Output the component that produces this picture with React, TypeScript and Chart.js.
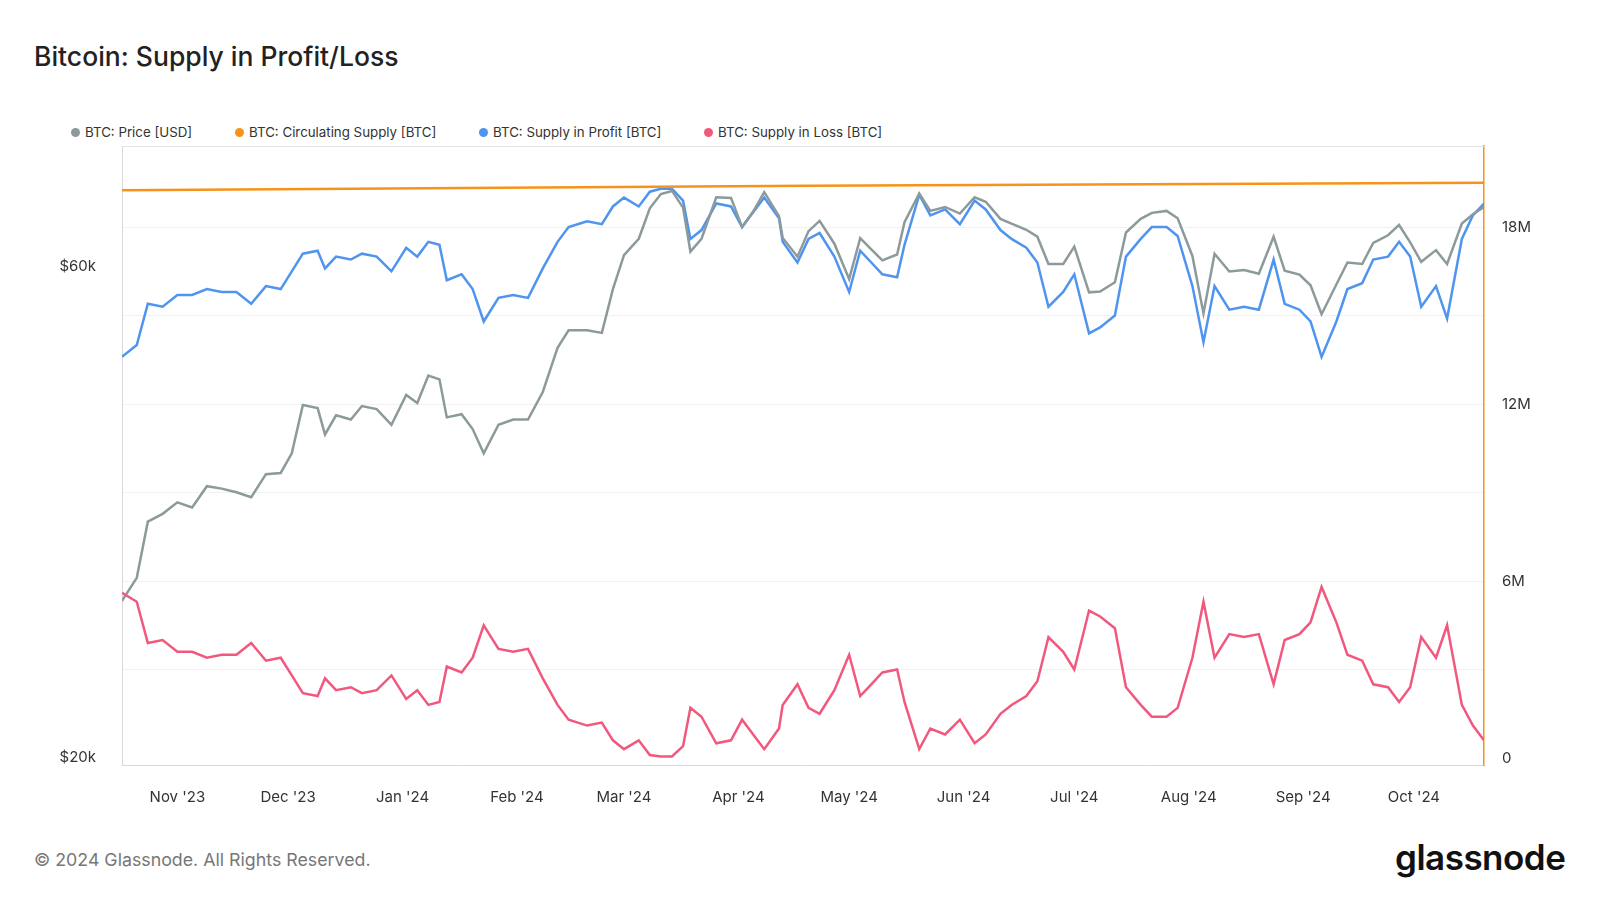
import React, { useEffect, useRef } from "react";
import { Chart, registerables } from "chart.js";
Chart.register(...registerables);

const dates = ["2023-10-17","2023-10-21","2023-10-24","2023-10-28","2023-11-01","2023-11-05","2023-11-09","2023-11-13","2023-11-17","2023-11-21","2023-11-25","2023-11-29","2023-12-02","2023-12-05","2023-12-09","2023-12-11","2023-12-14","2023-12-18","2023-12-21","2023-12-25","2023-12-29","2024-01-02","2024-01-05","2024-01-08","2024-01-11","2024-01-13","2024-01-17","2024-01-20","2024-01-23","2024-01-27","2024-01-31","2024-02-04","2024-02-08","2024-02-12","2024-02-15","2024-02-20","2024-02-24","2024-02-27","2024-03-01","2024-03-05","2024-03-08","2024-03-11","2024-03-14","2024-03-17","2024-03-19","2024-03-22","2024-03-26","2024-03-30","2024-04-02","2024-04-05","2024-04-08","2024-04-12","2024-04-13","2024-04-17","2024-04-20","2024-04-23","2024-04-27","2024-05-01","2024-05-04","2024-05-07","2024-05-10","2024-05-14","2024-05-16","2024-05-20","2024-05-23","2024-05-27","2024-05-31","2024-06-04","2024-06-07","2024-06-11","2024-06-14","2024-06-18","2024-06-21","2024-06-24","2024-06-28","2024-07-01","2024-07-05","2024-07-08","2024-07-12","2024-07-15","2024-07-19","2024-07-22","2024-07-26","2024-07-29","2024-08-02","2024-08-05","2024-08-08","2024-08-12","2024-08-16","2024-08-20","2024-08-24","2024-08-27","2024-08-31","2024-09-03","2024-09-06","2024-09-10","2024-09-13","2024-09-17","2024-09-20","2024-09-24","2024-09-27","2024-09-30","2024-10-03","2024-10-07","2024-10-10","2024-10-14","2024-10-17","2024-10-20"];

const priceK = [28.4,29.9,33.9,34.5,35.4,35.0,36.7,36.5,36.2,35.8,37.7,37.8,39.5,44.0,43.7,41.2,43.0,42.6,43.9,43.6,42.1,45.0,44.2,47.0,46.6,42.8,43.1,41.7,39.5,42.1,42.6,42.6,45.3,50.0,52.0,52.0,51.7,57.0,61.5,63.8,68.3,70.5,71.0,68.4,62.0,63.8,70.0,69.9,65.5,67.8,70.8,67.1,63.9,61.3,64.9,66.4,63.1,58.3,63.9,62.3,60.8,61.6,66.2,70.6,67.9,68.5,67.5,70.0,69.3,66.7,66.0,65.1,64.1,60.3,60.3,62.7,56.6,56.7,57.9,64.7,66.7,67.6,67.9,66.8,61.4,54.0,61.7,59.3,59.5,59.0,64.1,59.4,58.9,57.5,53.9,57.6,60.5,60.3,63.2,64.3,65.8,63.3,60.6,62.2,60.3,66.0,67.4,68.5];

const profitM = [13.6,14.0,15.4,15.3,15.7,15.7,15.9,15.8,15.8,15.4,16.0,15.9,16.5,17.1,17.2,16.6,17.0,16.9,17.1,17.0,16.5,17.3,17.0,17.5,17.4,16.2,16.4,15.9,14.8,15.6,15.7,15.6,16.6,17.5,18.0,18.2,18.1,18.7,19.0,18.7,19.2,19.3,19.3,18.9,17.6,17.9,18.8,18.7,18.0,18.5,19.0,18.3,17.5,16.8,17.6,17.8,17.0,15.8,17.2,16.8,16.4,16.3,17.4,19.1,18.4,18.6,18.1,18.9,18.6,17.9,17.6,17.3,16.8,15.3,15.8,16.4,14.4,14.6,15.0,17.0,17.6,18.0,18.0,17.7,16.0,14.1,16.0,15.2,15.3,15.2,16.9,15.4,15.2,14.8,13.6,14.8,15.9,16.1,16.9,17.0,17.5,17.0,15.3,16.0,14.9,17.6,18.4,18.8];

const lossM = [5.6,5.3,3.9,4.0,3.6,3.6,3.4,3.5,3.5,3.9,3.3,3.4,2.8,2.2,2.1,2.7,2.3,2.4,2.2,2.3,2.8,2.0,2.3,1.8,1.9,3.1,2.9,3.4,4.5,3.7,3.6,3.7,2.7,1.8,1.3,1.1,1.2,0.6,0.3,0.6,0.1,0.05,0.05,0.4,1.7,1.4,0.5,0.6,1.3,0.8,0.3,1.0,1.8,2.5,1.7,1.5,2.3,3.5,2.1,2.5,2.9,3.0,1.9,0.3,1.0,0.8,1.3,0.5,0.8,1.5,1.8,2.1,2.6,4.1,3.6,3.0,5.0,4.8,4.4,2.4,1.8,1.4,1.4,1.7,3.4,5.3,3.4,4.2,4.1,4.2,2.5,4.0,4.2,4.6,5.8,4.6,3.5,3.3,2.5,2.4,1.9,2.4,4.1,3.4,4.5,1.8,1.1,0.6];

const circDates = ["2023-10-17","2024-04-20","2024-10-20"];
const circM = [19.25, 19.4, 19.5];

const monthTicks = ["2023-11-01","2023-12-01","2024-01-01","2024-02-01","2024-03-01","2024-04-01","2024-05-01","2024-06-01","2024-07-01","2024-08-01","2024-09-01","2024-10-01"];
const monthNames = ["Jan","Feb","Mar","Apr","May","Jun","Jul","Aug","Sep","Oct","Nov","Dec"];
const priceTicks = [20000, 60000];
const supplyTicks = [0, 6e6, 12e6, 18e6];

const START = Date.UTC(2023, 9, 17);
const dayOf = (s: string) => { const [y, m, d] = s.split("-").map(Number); return (Date.UTC(y, m - 1, d) - START) / 864e5; };
const monthLabel = (day: number) => { const dt = new Date(START + day * 864e5); return monthNames[dt.getUTCMonth()] + " '" + String(dt.getUTCFullYear()).slice(2); };

const FONT = "Inter, 'Open Sans', sans-serif";
const legend = [
  { label: "BTC: Price [USD]", color: "#8c9a9b", x: 71 },
  { label: "BTC: Circulating Supply [BTC]", color: "#f7931a", x: 235 },
  { label: "BTC: Supply in Profit [BTC]", color: "#4f94ef", x: 479 },
  { label: "BTC: Supply in Loss [BTC]", color: "#f2587d", x: 704 },
];

export default function App() {
  const ref = useRef<HTMLCanvasElement>(null);
  useEffect(() => {
    const ctx = ref.current!;
    const mk = (vals: number[], ds: string[], mult: number) => vals.map((v, i) => ({ x: dayOf(ds[i]), y: v * mult }));
    const line = (label: string, data: any[], color: string, axis: string) => ({
      label, data, borderColor: color, backgroundColor: color, borderWidth: 2.5, pointRadius: 0, tension: 0, yAxisID: axis,
    });
    const chart = new Chart(ctx, {
      type: "line",
      data: {
        datasets: [
          line("BTC: Circulating Supply [BTC]", mk(circM, circDates, 1e6), "#f7931a", "yR"),
          line("BTC: Supply in Loss [BTC]", mk(lossM, dates, 1e6), "#f2587d", "yR"),
          line("BTC: Price [USD]", mk(priceK, dates, 1000), "#8c9a9b", "yL"),
          line("BTC: Supply in Profit [BTC]", mk(profitM, dates, 1e6), "#4f94ef", "yR"),
        ],
      },
      options: {
        animation: false, responsive: false, maintainAspectRatio: false,
        layout: { padding: { top: 146, left: 0, right: 0, bottom: 0 } },
        plugins: { legend: { display: false }, tooltip: { enabled: false } },
        scales: {
          x: {
            type: "linear", min: 0, max: dayOf("2024-10-20"),
            afterBuildTicks: (s: any) => { s.ticks = monthTicks.map((m) => ({ value: dayOf(m) })); },
            afterFit: (s: any) => { s.height = 50; },
            ticks: { callback: (v: any) => monthLabel(Number(v)), color: "#333", font: { family: FONT, size: 15 }, maxRotation: 0, autoSkip: false, padding: 15 },
            grid: { display: false, drawTicks: true },
            border: { color: "#d9d9d9" },
          },
          yL: {
            type: "logarithmic", position: "left", min: 19680, max: 78500,
            afterBuildTicks: (s: any) => { s.ticks = priceTicks.map((v) => ({ value: v })); },
            afterFit: (s: any) => { s.width = 122; },
            ticks: { callback: (v: any) => "$" + Number(v) / 1000 + "k", color: "#333", font: { family: FONT, size: 15 }, padding: 18 },
            grid: { display: false },
            border: { color: "#d9d9d9" },
          },
          yR: {
            type: "linear", position: "right", min: -0.237e6, max: 20.75e6,
            afterBuildTicks: (s: any) => { s.ticks = [0, 3e6, 6e6, 9e6, 12e6, 15e6, 18e6].map((v) => ({ value: v })); },
            afterFit: (s: any) => { s.width = 116; },
            ticks: {
              callback: (v: any) => (supplyTicks.includes(Number(v)) ? (Number(v) === 0 ? "0" : Number(v) / 1e6 + "M") : ""),
              color: "#333", font: { family: FONT, size: 15 }, padding: 18,
            },
            grid: { color: (c: any) => (c.tick && c.tick.value === 0 ? "rgba(0,0,0,0)" : "#f1f1f1"), drawTicks: false },
            border: { color: "#f7931a", width: 1.5 },
          },
        },
      },
      plugins: [{
        id: "topBorder",
        afterDraw: (c: any) => {
          const { ctx: g, chartArea: a } = c;
          g.save(); g.strokeStyle = "#e3e3e3"; g.lineWidth = 1;
          g.beginPath(); g.moveTo(a.left, a.top + 0.5); g.lineTo(a.right, a.top + 0.5); g.stroke(); g.restore();
        },
      }],
    } as any);
    return () => chart.destroy();
  }, []);

  return (
    <div style={{ position: "absolute", left: 0, top: 0, width: 1600, height: 900, background: "#fff", fontFamily: FONT }}>
      <div style={{ position: "absolute", left: 34, top: 40, fontSize: 26.5, fontWeight: 500, color: "#222" }}>Bitcoin: Supply in Profit/Loss</div>
      {legend.map((l) => (
        <div key={l.label} style={{ position: "absolute", left: l.x, top: 124, fontSize: 13.3, color: "#333", display: "flex", alignItems: "center", whiteSpace: "nowrap" }}>
          <span style={{ width: 9, height: 9, borderRadius: 5, background: l.color, display: "inline-block", marginRight: 5 }} />
          {l.label}
        </div>
      ))}
      <canvas ref={ref} width={1600} height={815} style={{ position: "absolute", left: 0, top: 0, width: 1600, height: 815 }} />
      <div style={{ position: "absolute", left: 34, top: 849, fontSize: 17.8, color: "#777" }}>© 2024 Glassnode. All Rights Reserved.</div>
      <div style={{ position: "absolute", left: 1395, top: 836, fontSize: 35, fontWeight: 600, color: "#111", letterSpacing: -0.5 }}>glassnode</div>
    </div>
  );
}
